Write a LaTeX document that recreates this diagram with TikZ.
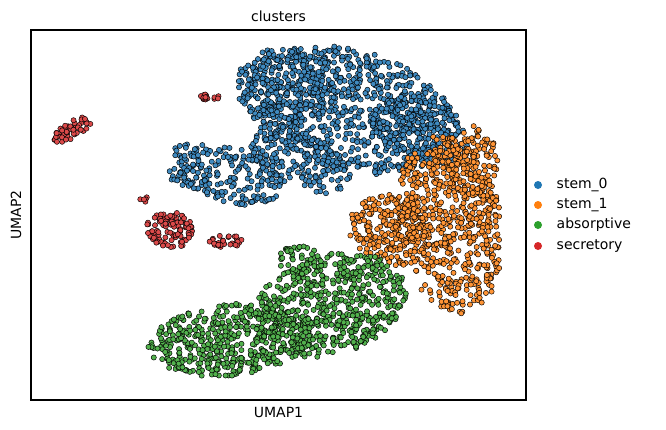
\documentclass[tikz,border=0pt]{standalone}
\usepackage{fontspec}
\setmainfont{DejaVu Sans}
\definecolor{cb}{HTML}{1F77B4}
\definecolor{co}{HTML}{FF7F0E}
\definecolor{cg}{HTML}{2CA02C}
\definecolor{cr}{HTML}{D62728}
\definecolor{fb}{HTML}{3F8AC0}
\definecolor{fo}{HTML}{FF9435}
\definecolor{fg}{HTML}{52B14D}
\definecolor{fr}{HTML}{DC4A4A}
\newcommand{\myblob}[7]{%
  \foreach \i in {1,...,#6}{%
    \pgfmathsetmacro\aa{360*rnd}%
    \pgfmathsetmacro\rr{sqrt(rnd)}%
    \pgfmathsetmacro\ux{#4*\rr*cos(\aa)}%
    \pgfmathsetmacro\uy{#5*\rr*sin(\aa)}%
    \pgfmathsetmacro\px{#2+\ux*cos(#7)-\uy*sin(#7)}%
    \pgfmathsetmacro\py{#3+\ux*sin(#7)+\uy*cos(#7)}%
    \path[pt,fill=#1] (\px,\py) circle (2.6);
  }}
\begin{document}
\begin{tikzpicture}[x=0.75pt,y=-0.75pt,
  pt/.style={draw=black,line width=0.35pt},
  lab/.style={font=\fontsize{10.5}{12}\selectfont,text=black},
  leg/.style={font=\fontsize{10.5}{12}\selectfont,anchor=west}]
\useasboundingbox[fill=white] (0,0) rectangle (666,429);
\pgfmathsetseed{4711}
% blue
\myblob{fb}{350}{110}{110}{60}{750}{15}
\myblob{fb}{290}{85}{55}{38}{250}{0}
\myblob{fb}{420}{130}{50}{32}{220}{20}
\myblob{fb}{300}{160}{55}{28}{180}{25}
\myblob{fb}{230}{175}{55}{28}{170}{15}
\myblob{fb}{185}{165}{18}{22}{50}{0}
% orange
\myblob{fo}{450}{225}{52}{90}{620}{-10}
\myblob{fo}{390}{230}{42}{35}{220}{20}
\myblob{fo}{470}{160}{28}{35}{110}{0}
% green
\myblob{fg}{230}{340}{82}{36}{480}{-5}
\myblob{fg}{330}{305}{78}{50}{560}{-15}
\myblob{fg}{300}{262}{22}{18}{50}{0}
% red
\myblob{fr}{170}{230}{25}{18}{100}{0}
\myblob{fr}{225}{240}{18}{8}{30}{0}
\myblob{fr}{72}{130}{22}{8}{50}{-30}
\myblob{fr}{210}{97}{12}{3}{16}{0}
\myblob{fr}{145}{200}{5}{3}{5}{0}
% axes
\node[draw=black,line width=0.8pt,minimum width=495*0.75pt,minimum height=370*0.75pt,inner sep=0pt] (ax) at (278.5,215) {};
\node[lab] (title) at (278.5,16) {clusters};
\node[lab] (xl) at (278.5,412) {UMAP1};
\node[lab,rotate=90] (yl) at (16,215) {UMAP2};
% legend
\fill[cb] (538,185) circle (4);
\fill[co] (538,205) circle (4);
\fill[cg] (538,225) circle (4);
\fill[cr] (538,246) circle (4);
\node[leg] (l1) at (552,185) {stem\_0};
\node[leg] (l2) at (552,205) {stem\_1};
\node[leg] (l3) at (552,225) {absorptive};
\node[leg] (l4) at (552,246) {secretory};
\end{tikzpicture}
\end{document}
